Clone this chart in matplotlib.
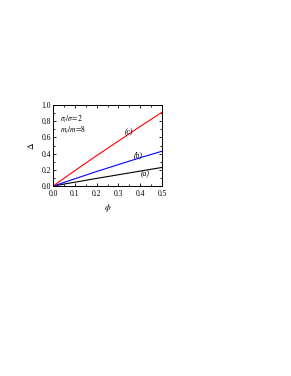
import matplotlib
matplotlib.use("Agg")
import matplotlib.pyplot as plt
from matplotlib.ticker import MultipleLocator

plt.rcParams['font.family'] = ['Liberation Serif', 'DejaVu Serif']
plt.rcParams['mathtext.fontset'] = 'stix'

# volume fraction and curves (a), (b), (c)
phi = [0.0, 0.05, 0.1, 0.2, 0.3, 0.4, 0.5]
delta_a = [0.0, 0.025, 0.048, 0.095, 0.14, 0.185, 0.23]
delta_b = [0.0, 0.045, 0.09, 0.18, 0.265, 0.35, 0.43]
delta_c = [0.0, 0.095, 0.19, 0.375, 0.555, 0.735, 0.91]

fig = plt.figure(figsize=(2.91, 3.76), dpi=100)
ax = fig.add_axes([0.182, 0.505, 0.375, 0.216])

ax.plot(phi, delta_a, color='black', lw=0.8)
ax.plot(phi, delta_b, color='blue', lw=0.8)
ax.plot(phi, delta_c, color='red', lw=0.8)

ax.set_xlim(0, 0.5)
ax.set_ylim(0, 1.0)
ax.xaxis.set_major_locator(MultipleLocator(0.1))
ax.xaxis.set_minor_locator(MultipleLocator(0.05))
ax.yaxis.set_major_locator(MultipleLocator(0.2))
ax.yaxis.set_minor_locator(MultipleLocator(0.1))
ax.tick_params(which='both', direction='in', top=True, right=True, labelsize=5.5, width=0.6)
ax.tick_params(axis='x', pad=2.5)
ax.tick_params(axis='y', pad=1.5)
ax.tick_params(which='major', length=2.5)
ax.tick_params(which='minor', length=1.3)
ax.set_xticklabels([f"{v:.1f}" for v in ax.get_xticks()])
for s in ax.spines.values():
    s.set_linewidth(0.7)

ax.set_xlabel(r'$\phi$', fontsize=6.5, labelpad=3)
ax.set_ylabel(r'$\mathit{\Delta}$', fontsize=6.5, labelpad=4)

ax.text(0.03, 0.79, r'$\sigma_l/\sigma\!=\!2$', fontsize=5.5)
ax.text(0.03, 0.66, r'$m_l/m\!=\!8$', fontsize=5.5)
ax.text(0.33, 0.64, '(c)', fontsize=5.5, style='italic')
ax.text(0.37, 0.36, '(b)', fontsize=5.5, style='italic')
ax.text(0.40, 0.12, '(a)', fontsize=5.5, style='italic')

fig.savefig('out.png', dpi=100)
